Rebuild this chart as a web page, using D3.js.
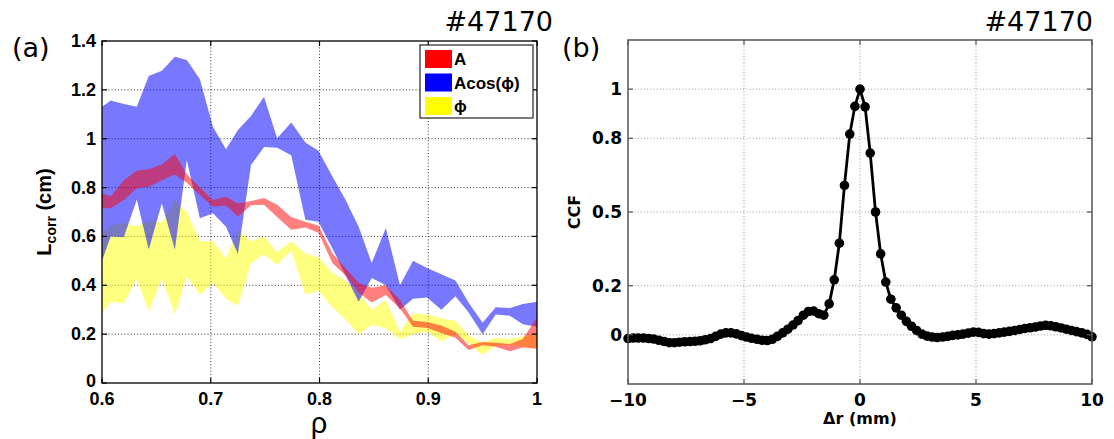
<!DOCTYPE html>
<html>
<head>
<meta charset="utf-8">
<script src="https://cdn.jsdelivr.net/npm/d3@7"></script>
<style>
  html, body { margin: 0; padding: 0; background: #fff; }
  svg { display: block; }
</style>
</head>
<body>
<svg id="fig" width="1114" height="439"></svg>
<script>
// ---- Panel (a): correlation length bands vs normalized radius ----
const rho = [0.600, 0.608, 0.620, 0.632, 0.643, 0.655, 0.667, 0.678, 0.690, 0.702,
             0.714, 0.725, 0.737, 0.749, 0.761, 0.774, 0.787, 0.799, 0.812, 0.824,
             0.836, 0.848, 0.861, 0.874, 0.886, 0.899, 0.912, 0.925, 0.937, 0.950,
             0.962, 0.975, 0.987, 1.000];

// amplitude (A)
const aLo = [0.715, 0.715, 0.749, 0.797, 0.803, 0.830, 0.853, 0.820, 0.770, 0.722,
             0.727, 0.681, 0.728, 0.730, 0.680, 0.627, 0.637, 0.615, 0.490, 0.440,
             0.370, 0.330, 0.360, 0.305, 0.230, 0.225, 0.205, 0.185, 0.135, 0.155,
             0.148, 0.130, 0.145, 0.140];
const aHi = [0.776, 0.763, 0.830, 0.870, 0.875, 0.894, 0.937, 0.855, 0.800, 0.749,
             0.762, 0.735, 0.745, 0.757, 0.730, 0.680, 0.660, 0.645, 0.530, 0.470,
             0.410, 0.390, 0.400, 0.340, 0.255, 0.250, 0.235, 0.210, 0.155, 0.168,
             0.165, 0.160, 0.180, 0.270];

// Acos(phi)
const acosLo = [0.500, 0.600, 0.597, 0.750, 0.545, 0.736, 0.545, 0.913, 0.674, 0.695,
                0.640, 0.528, 0.892, 0.966, 0.963, 0.932, 0.668, 0.660, 0.550, 0.440,
                0.333, 0.430, 0.400, 0.300, 0.345, 0.350, 0.300, 0.355, 0.290, 0.200,
                0.280, 0.275, 0.240, 0.230];
const acosHi = [1.131, 1.156, 1.142, 1.131, 1.257, 1.278, 1.336, 1.322, 1.243, 1.049,
                0.957, 1.036, 1.093, 1.172, 1.002, 1.066, 0.984, 0.951, 0.844, 0.749,
                0.640, 0.491, 0.635, 0.400, 0.500, 0.471, 0.445, 0.420, 0.330, 0.247,
                0.310, 0.307, 0.323, 0.333];

// phase (phi)
const phiLo = [0.287, 0.332, 0.326, 0.425, 0.293, 0.428, 0.280, 0.437, 0.361, 0.410,
               0.345, 0.317, 0.490, 0.525, 0.484, 0.542, 0.361, 0.378, 0.310, 0.260,
               0.200, 0.238, 0.224, 0.179, 0.200, 0.210, 0.170, 0.200, 0.163, 0.115,
               0.152, 0.156, 0.149, 0.142];
const phiHi = [0.610, 0.645, 0.656, 0.640, 0.667, 0.656, 0.749, 0.700, 0.580, 0.580,
               0.510, 0.625, 0.580, 0.600, 0.535, 0.580, 0.530, 0.515, 0.450, 0.420,
               0.370, 0.300, 0.340, 0.210, 0.285, 0.280, 0.265, 0.255, 0.195, 0.165,
               0.185, 0.180, 0.190, 0.205];

const bandNames  = ["A", "Acos(\u03D5)", "\u03D5"];
const bandColors = ["#ff0000", "#0000ff", "#ffff00"];
const rhoTicks   = [0.6, 0.7, 0.8, 0.9, 1];
const lcorrTicks = [0, 0.2, 0.4, 0.6, 0.8, 1, 1.2, 1.4];

// ---- Panel (b): cross-correlation vs radial separation ----
const lag = [-10.00, -9.78, -9.56, -9.33, -9.11, -8.89, -8.67, -8.44, -8.22, -8.00,
             -7.78, -7.56, -7.33, -7.11, -6.89, -6.67, -6.44, -6.22, -6.00, -5.78,
             -5.56, -5.33, -5.11, -4.89, -4.67, -4.44, -4.22, -4.00, -3.78, -3.56,
             -3.33, -3.11, -2.89, -2.67, -2.44, -2.22, -2.00, -1.78, -1.56, -1.33,
             -1.11, -0.89, -0.67, -0.44, -0.22, 0.00, 0.22, 0.44, 0.67, 0.89,
             1.11, 1.33, 1.56, 1.78, 2.00, 2.22, 2.44, 2.67, 2.89, 3.11,
             3.33, 3.56, 3.78, 4.00, 4.22, 4.44, 4.67, 4.89, 5.11, 5.33,
             5.56, 5.78, 6.00, 6.22, 6.44, 6.67, 6.89, 7.11, 7.33, 7.56,
             7.78, 8.00, 8.22, 8.44, 8.67, 8.89, 9.11, 9.33, 9.56, 9.78, 10.00];
const ccf = [-0.015, -0.013, -0.013, -0.013, -0.015, -0.017, -0.022, -0.027, -0.032, -0.032,
             -0.030, -0.028, -0.027, -0.026, -0.024, -0.020, -0.015, -0.006, 0.003, 0.008,
             0.008, 0.004, -0.003, -0.009, -0.014, -0.018, -0.022, -0.023, -0.018, -0.006,
             0.008, 0.023, 0.040, 0.058, 0.080, 0.095, 0.097, 0.086, 0.080, 0.126,
             0.224, 0.373, 0.608, 0.817, 0.930, 1.000, 0.928, 0.740, 0.500, 0.330,
             0.215, 0.145, 0.110, 0.080, 0.055, 0.035, 0.018, 0.003, -0.005, -0.009,
             -0.011, -0.009, -0.006, -0.002, 0.000, 0.003, 0.007, 0.011, 0.010, 0.005,
             0.003, 0.005, 0.008, 0.011, 0.014, 0.018, 0.022, 0.026, 0.029, 0.032,
             0.036, 0.039, 0.037, 0.033, 0.028, 0.023, 0.018, 0.013, 0.008, 0.002, -0.008];
const lagTicks = [-10, -5, 0, 5, 10];
const ccfTicks = [0, 0.2, 0.5, 0.8, 1];

const svg = d3.select("#fig");
const fmt = d3.format("");

// dotted grid inside a plot frame
function frame(g, x, y, xt, yt, opt) {
  const [xa, xb] = x.range(), [yb, ya] = y.range();
  const grid = g.append("g");
  grid.selectAll(".gx").data(xt.filter(t => x(t) > xa + 1 && x(t) < xb - 1)).join("line")
    .attr("x1", d => x(d)).attr("x2", d => x(d)).attr("y1", ya).attr("y2", yb)
    .attr("stroke", opt.grid).attr("stroke-width", 1).attr("stroke-dasharray", "1,2.2");
  grid.selectAll(".gy").data(yt.filter(t => y(t) > ya + 1 && y(t) < yb - 1)).join("line")
    .attr("x1", xa).attr("x2", xb).attr("y1", d => y(d)).attr("y2", d => y(d))
    .attr("stroke", opt.grid).attr("stroke-width", 1).attr("stroke-dasharray", "1,2.2");
  return grid;
}

// box outline, inward ticks on all sides, bold tick labels
function box(g, x, y, xt, yt, opt) {
  const [xa, xb] = x.range(), [yb, ya] = y.range();
  const tk = 5;
  const t = g.append("g").attr("stroke", opt.axis).attr("stroke-width", 1.2);
  xt.forEach(v => {
    t.append("line").attr("x1", x(v)).attr("x2", x(v)).attr("y1", yb).attr("y2", yb - tk);
    t.append("line").attr("x1", x(v)).attr("x2", x(v)).attr("y1", ya).attr("y2", ya + tk);
  });
  yt.forEach(v => {
    t.append("line").attr("x1", xa).attr("x2", xa + tk).attr("y1", y(v)).attr("y2", y(v));
    t.append("line").attr("x1", xb).attr("x2", xb - tk).attr("y1", y(v)).attr("y2", y(v));
  });
  g.append("rect").attr("x", xa).attr("y", ya).attr("width", xb - xa).attr("height", yb - ya)
    .attr("fill", "none").attr("stroke", opt.axis).attr("stroke-width", opt.bw);
  g.append("g").selectAll("text").data(xt).join("text")
    .attr("x", d => x(d)).attr("y", yb + 22).attr("text-anchor", "middle")
    .attr("font-family", opt.font).attr("font-weight", "bold").attr("font-size", opt.fs)
    .text(d => fmt(d));
  g.append("g").selectAll("text").data(yt).join("text")
    .attr("x", xa - 6).attr("y", d => y(d) + (d === yt[0] && opt.lift ? 4 : 6)).attr("text-anchor", "end")
    .attr("font-family", opt.font).attr("font-weight", "bold").attr("font-size", opt.fs)
    .text(d => fmt(d));
}

// ===== Panel (a) =====
const xA = d3.scaleLinear().domain([0.6, 1]).range([102, 537]);
const yA = d3.scaleLinear().domain([0, 1.4]).range([383, 41]);
const gA = svg.append("g");
const optA = { grid: "#333", axis: "#000", bw: 1.3, font: "'Liberation Sans', Arial, sans-serif", fs: 18, lift: true };
frame(gA, xA, yA, rhoTicks, lcorrTicks, optA);

gA.append("clipPath").attr("id", "clipA").append("rect")
  .attr("x", 102).attr("y", 41).attr("width", 435).attr("height", 342);

const bandData = (lo, hi) => rho.map((r, i) => ({ r, lo: lo[i], hi: hi[i] }));
const area = d3.area().x(d => xA(d.r)).y0(d => yA(d.lo)).y1(d => yA(d.hi));
const bands = gA.append("g").attr("clip-path", "url(#clipA)");
// drawing order: phi underneath, Acos(phi), then A on top
[[phiLo, phiHi, bandColors[2], 0.5],
 [acosLo, acosHi, bandColors[1], 0.53],
 [aLo, aHi, bandColors[0], 0.5]].forEach(([lo, hi, c, op]) => {
  bands.append("path").datum(bandData(lo, hi)).attr("d", area)
    .attr("fill", c).attr("fill-opacity", op).attr("stroke", "none");
});

box(gA, xA, yA, rhoTicks, lcorrTicks, optA);

// legend
const lg = gA.append("g").attr("transform", "translate(420,45)");
lg.append("rect").attr("width", 113).attr("height", 73).attr("fill", "#fff")
  .attr("stroke", "#222").attr("stroke-width", 1.2);
bandNames.forEach((n, i) => {
  const yy = 5 + i * 23.5;
  lg.append("rect").attr("x", 5).attr("y", yy).attr("width", 27).attr("height", 18)
    .attr("fill", bandColors[i]);
  lg.append("text").attr("x", 34).attr("y", yy + 15)
    .attr("font-family", "'Liberation Sans', Arial, sans-serif").attr("font-weight", "bold")
    .attr("font-size", 17).text(n);
});

// axis labels
gA.append("text").attr("x", 319).attr("y", 433).attr("text-anchor", "middle")
  .attr("font-family", "'Liberation Sans', Arial, sans-serif").attr("font-size", 29).text("\u03C1");
const yl = gA.append("text").attr("transform", "translate(51,212) rotate(-90)")
  .attr("text-anchor", "middle")
  .attr("font-family", "'Liberation Sans', Arial, sans-serif").attr("font-weight", "bold")
  .attr("font-size", 20);
yl.append("tspan").text("L");
yl.append("tspan").attr("font-size", 14).attr("dy", 5).text("corr");
yl.append("tspan").attr("dy", -5).text(" (cm)");

// ===== Panel (b) =====
const xB = d3.scaleLinear().domain([-10, 10]).range([628, 1092]);
const yB = d3.scaleLinear().domain([-0.2, 1.2]).range([384, 40]);
const gB = svg.append("g");
const optB = { grid: "#999", axis: "#555", bw: 1.5, font: "'DejaVu Sans', sans-serif", fs: 17 };
frame(gB, xB, yB, lagTicks, ccfTicks, optB);

const pts = lag.map((d, i) => ({ d, v: ccf[i] }));
gB.append("path").datum(pts)
  .attr("d", d3.line().x(p => xB(p.d)).y(p => yB(p.v)))
  .attr("fill", "none").attr("stroke", "#000").attr("stroke-width", 2.8)
  .attr("stroke-linejoin", "round");
gB.append("g").selectAll("circle").data(pts).join("circle")
  .attr("cx", p => xB(p.d)).attr("cy", p => yB(p.v)).attr("r", 4.8).attr("fill", "#000");

box(gB, xB, yB, lagTicks, ccfTicks, optB);

gB.append("text").attr("x", 860).attr("y", 424).attr("text-anchor", "middle")
  .attr("font-family", "'DejaVu Sans', sans-serif").attr("font-weight", "bold")
  .attr("font-size", 16).text("\u0394r (mm)");
gB.append("text").attr("transform", "translate(580,212) rotate(-90)")
  .attr("text-anchor", "middle")
  .attr("font-family", "'DejaVu Sans', sans-serif").attr("font-weight", "bold")
  .attr("font-size", 16).text("CCF");

// panel tags and shot numbers
const tagFont = "'DejaVu Sans', sans-serif";
svg.append("text").attr("x", 12).attr("y", 57).attr("font-family", tagFont).attr("font-size", 27).text("(a)");
svg.append("text").attr("x", 562).attr("y", 57).attr("font-family", tagFont).attr("font-size", 27).text("(b)");
svg.append("text").attr("x", 553).attr("y", 31).attr("text-anchor", "end")
  .attr("font-family", tagFont).attr("font-size", 27).text("#47170");
svg.append("text").attr("x", 1093).attr("y", 31).attr("text-anchor", "end")
  .attr("font-family", tagFont).attr("font-size", 27).text("#47170");
</script>
</body>
</html>
